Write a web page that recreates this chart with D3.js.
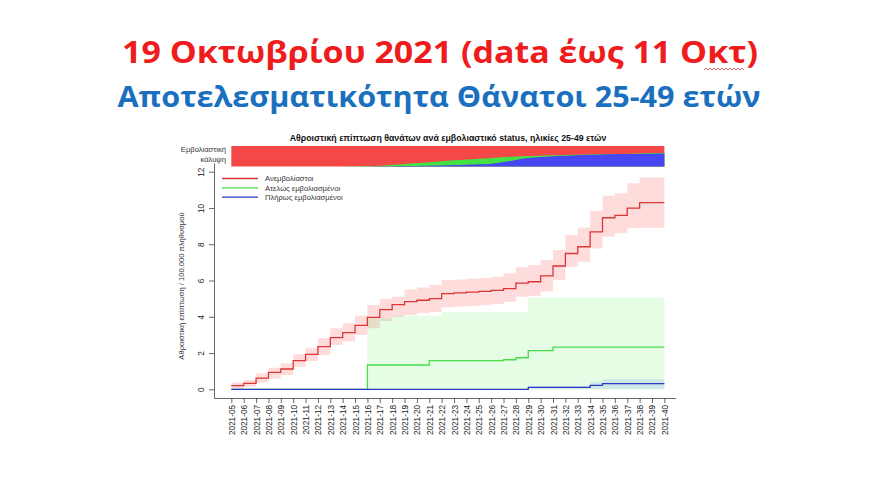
<!DOCTYPE html>
<html>
<head>
<meta charset="utf-8">
<script src="https://cdn.jsdelivr.net/npm/d3@7"></script>
<style>
body { margin: 0; background: #fff; }
svg { display: block; }
</style>
</head>
<body>
<script>
// week labels on the x axis
var weeks = ["2021-05","2021-06","2021-07","2021-08","2021-09","2021-10","2021-11","2021-12",
  "2021-13","2021-14","2021-15","2021-16","2021-17","2021-18","2021-19","2021-20","2021-21",
  "2021-22","2021-23","2021-24","2021-25","2021-26","2021-27","2021-28","2021-29","2021-30",
  "2021-31","2021-32","2021-33","2021-34","2021-35","2021-36","2021-37","2021-38","2021-39","2021-40"];

// cumulative deaths / 100.000, unvaccinated
var unvacc   = [0.2,0.33,0.62,0.93,1.12,1.58,1.93,2.35,2.85,3.13,3.53,3.97,4.39,4.67,4.83,4.91,5.0,5.28,
  5.32,5.36,5.4,5.45,5.55,5.86,5.93,6.25,6.8,7.49,7.86,8.68,9.46,9.59,9.99,10.3,10.3,10.3];
var unvaccLo = [0.05,0.14,0.38,0.6,0.79,1.25,1.56,1.89,2.44,2.63,2.99,3.36,3.77,4.0,4.1,4.19,4.26,4.52,
  4.56,4.59,4.63,4.7,4.83,5.11,5.15,5.39,6.03,6.76,7.04,7.77,8.42,8.6,8.88,8.91,8.91,8.91];
var unvaccHi = [0.38,0.51,0.88,1.19,1.43,1.93,2.26,2.81,3.36,3.64,4.06,4.65,5.0,5.11,5.51,5.62,5.75,6.03,
  6.06,6.1,6.14,6.21,6.4,6.73,6.86,7.13,7.68,8.51,8.91,9.83,10.68,10.81,11.36,11.68,11.68,11.68];

// partially vaccinated
var partial   = [0,0,0,0,0,0,0,0,0,0,0,1.34,1.34,1.34,1.34,1.34,1.58,1.58,1.58,1.58,1.58,1.58,1.63,1.74,
  2.13,2.13,2.33,2.33,2.33,2.33,2.33,2.33,2.33,2.33,2.33,2.33];
var partialLo = [0,0,0,0,0,0,0,0,0,0,0,0,0,0,0,0,0,0,0,0,0,0,0,0,0,0,0,0,0,0,0,0,0,0,0,0];
var partialHi = [0,0,0,0,0,0,0,0,0,0,0,3.9,3.9,4.05,4.05,4.05,4.05,4.25,4.25,4.25,4.25,4.25,4.25,4.25,
  5.05,5.05,5.05,5.05,5.05,5.05,5.05,5.05,5.05,5.05,5.05,5.05];

// fully vaccinated
var fullv   = [0,0,0,0,0,0,0,0,0,0,0,0,0,0,0,0,0,0,0,0,0,0,0,0,0.11,0.11,0.11,0.11,0.11,0.22,
  0.31,0.31,0.31,0.31,0.31,0.31];
var fullvLo = [0,0,0,0,0,0,0,0,0,0,0,0,0,0,0,0,0,0,0,0,0,0,0,0,0,0,0,0,0,0,0,0,0,0,0,0];
var fullvHi = [0,0,0,0,0,0,0,0,0,0,0,0,0,0,0,0,0,0,0,0,0,0,0,0,0.18,0.18,0.18,0.18,0.18,0.42,
  0.55,0.55,0.55,0.55,0.55,0.55];

// vaccination coverage (share of population)
var covFull    = [0,0,0,0,0,0,0,0,0,0,0,0.005,0.01,0.015,0.02,0.03,0.04,0.05,0.07,0.09,0.11,0.14,
  0.22,0.32,0.41,0.46,0.5,0.53,0.55,0.57,0.585,0.595,0.605,0.615,0.625,0.63];
var covPartial = [0.005,0.005,0.005,0.005,0.005,0.005,0.005,0.005,0.005,0.005,0.01,0.015,0.03,0.065,
  0.1,0.14,0.17,0.21,0.23,0.25,0.27,0.28,0.24,0.17,0.1,0.07,0.05,0.035,0.025,0.015,0.01,0.015,
  0.02,0.025,0.03,0.04];

var yTicks = [0, 2, 4, 6, 8, 10, 12];
var legendLabels = ["Ανεμβολίαστοι", "Ατελώς εμβολιασμένοι", "Πλήρως εμβολιασμένοι"];

var width = 880;
var height = 495;

var svg = d3.select("body").append("svg")
  .attr("width", width)
  .attr("height", height);

svg.append("rect").attr("width", width).attr("height", height).attr("fill", "#fff");

// slide titles
svg.append("text")
  .attr("x", 440).attr("y", 63)
  .attr("text-anchor", "middle")
  .attr("textLength", 636).attr("lengthAdjust", "spacingAndGlyphs")
  .style("font-family", "'Open Sans', 'Noto Sans', sans-serif")
  .style("font-weight", "bold")
  .style("font-size", "31px")
  .style("fill", "#ee1c1c")
  .text("19 Οκτωβρίου 2021 (data έως 11 Οκτ)");

svg.append("path")
  .attr("d", "M704,70 l2,-2 l2,2 l2,-2 l2,2 l2,-2 l2,2 l2,-2 l2,2 l2,-2 l2,2 l2,-2 l2,2 l2,-2 l2,2 l2,-2 l2,2 l2,-2 l2,2 l2,-2 l2,2")
  .attr("fill", "none")
  .attr("stroke", "#d04040")
  .attr("stroke-width", 0.8);

svg.append("text")
  .attr("x", 439).attr("y", 107)
  .attr("text-anchor", "middle")
  .attr("textLength", 643).attr("lengthAdjust", "spacingAndGlyphs")
  .style("font-family", "'Open Sans', 'Noto Sans', sans-serif")
  .style("font-weight", "bold")
  .style("font-size", "29px")
  .style("fill", "#1a6fbe")
  .text("Αποτελεσματικότητα Θάνατοι 25-49 ετών");

var x = d3.scaleLinear().domain([-1.4, 35.9]).range([214, 675.5]);
var y = d3.scaleLinear().domain([-0.48, 12.48]).range([398, 163]);
var yc = d3.scaleLinear().domain([0, 1]).range([166.5, 146]);

var font = "'Liberation Sans', Arial, sans-serif";

// chart title
svg.append("text")
  .attr("x", 448).attr("y", 141)
  .attr("text-anchor", "middle")
  .style("font-family", font)
  .style("font-weight", "bold")
  .style("font-size", "8.8px")
  .style("fill", "#111")
  .text("Αθροιστική επίπτωση θανάτων ανά εμβολιαστικό status, ηλικίες 25-49 ετών");

// coverage band
var idx = d3.range(weeks.length);
var cov = svg.append("g");
cov.append("path")
  .datum(idx)
  .attr("fill", "#f44848")
  .attr("d", d3.area().x(function(i) { return x(i); }).y0(yc(0)).y1(yc(1)));
cov.append("path")
  .datum(idx)
  .attr("fill", "#44e044")
  .attr("d", d3.area().curve(d3.curveMonotoneX)
    .x(function(i) { return x(i); })
    .y0(yc(0))
    .y1(function(i) { return yc(covFull[i] + covPartial[i]); }));
cov.append("path")
  .datum(idx)
  .attr("fill", "#4646f2")
  .attr("d", d3.area().curve(d3.curveMonotoneX)
    .x(function(i) { return x(i); })
    .y0(yc(0))
    .y1(function(i) { return yc(covFull[i]); }));

cov.selectAll("text")
  .data(["Εμβολιαστική", "κάλυψη"])
  .enter().append("text")
  .attr("x", 226)
  .attr("y", function(d, i) { return 152 + i * 10; })
  .attr("text-anchor", "end")
  .style("font-family", font)
  .style("font-size", "7.6px")
  .style("fill", "#333")
  .text(function(d) { return d; });

// series
var series = [
  { vals: unvacc, lo: unvaccLo, hi: unvaccHi, line: "#dc3535", band: "rgba(255,40,40,0.16)" },
  { vals: partial, lo: partialLo, hi: partialHi, line: "#48dc48", band: "rgba(40,230,40,0.12)" },
  { vals: fullv, lo: fullvLo, hi: fullvHi, line: "#2b3bc4", band: "rgba(60,110,230,0.13)" }
];

var plot = svg.append("g");

plot.selectAll("path.band")
  .data(series)
  .enter().append("path")
  .attr("class", "band")
  .attr("fill", function(d) { return d.band; })
  .attr("d", function(s) {
    return d3.area().curve(d3.curveStepAfter)
      .x(function(i) { return x(i); })
      .y0(function(i) { return y(s.lo[i]); })
      .y1(function(i) { return y(s.hi[i]); })(idx);
  });

plot.selectAll("path.line")
  .data(series)
  .enter().append("path")
  .attr("class", "line")
  .attr("fill", "none")
  .attr("stroke", function(d) { return d.line; })
  .attr("stroke-width", 1.3)
  .attr("d", function(s) {
    return d3.line().curve(d3.curveStepAfter)
      .x(function(i) { return x(i); })
      .y(function(i) { return y(s.vals[i]); })(idx);
  });

// legend
var legend = svg.append("g");
legend.selectAll("line")
  .data(series)
  .enter().append("line")
  .attr("x1", 222).attr("x2", 258)
  .attr("y1", function(d, i) { return 178.5 + i * 9.3; })
  .attr("y2", function(d, i) { return 178.5 + i * 9.3; })
  .attr("stroke", function(d) { return d.line; })
  .attr("stroke-width", 1.3);
legend.selectAll("text")
  .data(legendLabels)
  .enter().append("text")
  .attr("x", 265)
  .attr("y", function(d, i) { return 181.2 + i * 9.3; })
  .style("font-family", font)
  .style("font-size", "7.6px")
  .style("fill", "#333")
  .text(function(d) { return d; });

// axes
var yAxis = svg.append("g")
  .attr("transform", "translate(214,0)")
  .call(d3.axisLeft(y).tickValues(yTicks).tickSize(5).tickSizeOuter(0));
yAxis.selectAll("text")
  .attr("transform", "rotate(-90)")
  .attr("x", 0).attr("y", -10.5).attr("dy", 0)
  .attr("text-anchor", "middle");

var xAxis = svg.append("g")
  .attr("transform", "translate(0,398)")
  .call(d3.axisBottom(x).tickValues(idx).tickSize(5).tickSizeOuter(0)
    .tickFormat(function(i) { return weeks[i]; }));
xAxis.selectAll("text")
  .attr("transform", "rotate(-90)")
  .attr("x", -7).attr("y", 3).attr("dy", 0)
  .attr("text-anchor", "end");

svg.selectAll(".tick text")
  .style("font-family", font)
  .style("font-size", "8.2px")
  .style("fill", "#222");
svg.selectAll(".domain, .tick line").attr("stroke", "#444").attr("stroke-width", 0.8);

svg.append("text")
  .attr("transform", "translate(184,286) rotate(-90)")
  .attr("text-anchor", "middle")
  .style("font-family", font)
  .style("font-size", "7.6px")
  .style("fill", "#333")
  .text("Αθροιστική επίπτωση / 100.000 πληθυσμού");
</script>
</body>
</html>
